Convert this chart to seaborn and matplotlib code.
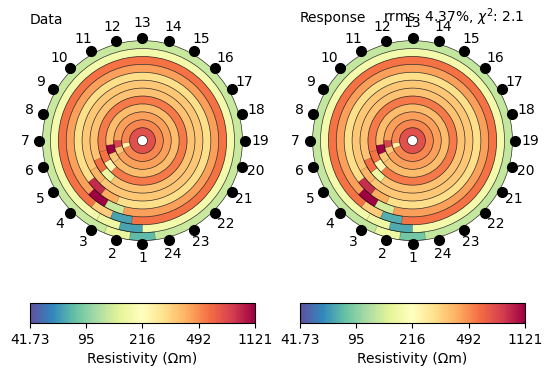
import numpy as np
import matplotlib
matplotlib.use("Agg")
import matplotlib.pyplot as plt
import seaborn as sns
from matplotlib.patches import Wedge, Circle
from matplotlib.collections import PatchCollection
from matplotlib.colors import LogNorm
from matplotlib.cm import ScalarMappable

# apparent resistivity per separation level (outer ring -> inner ring)
ring_data = [132, 184, 562, 446, 301, 354, 366, 543, 378, 446, 509, 707]
ring_resp = [128, 184, 562, 446, 301, 354, 366, 543, 378, 446, 509, 707]

# cells that differ from their ring: level, electrode position, value
odd_lvl_data = [0, 0, 1, 1, 2, 2, 3, 3, 4, 4, 5, 6, 6, 7, 7, 8, 8, 9, 9, 10]
odd_pos_data = [1.0, 2.0, 1.5, 2.5, 2.0, 3.0, 2.5, 3.5, 4.0, 3.0, 4.5,
                4.0, 5.0, 4.5, 5.5, 6.0, 5.0, 6.5, 5.5, 6.0]
odd_val_data = [78, 166, 68, 172, 68, 343, 132, 1121, 890, 418, 400,
                166, 580, 239, 560, 1121, 354, 755, 354, 255]

odd_lvl_resp = odd_lvl_data
odd_pos_resp = odd_pos_data
odd_val_resp = [86, 172, 70, 172, 72, 343, 140, 1121, 870, 418, 400,
                170, 580, 239, 560, 1100, 354, 755, 354, 255]

n_elec = 24
elec_ids = list(range(1, n_elec + 1))

vmin, vmax = 41.73, 1121
cb_ticks = [41.73, 95, 216, 492, 1121]
cb_labels = ["41.73", "95", "216", "492", "1121"]

cmap = sns.color_palette("Spectral_r", as_cmap=True)
norm = LogNorm(vmin=vmin, vmax=vmax)

r_in, r_out = 0.05, 1.0
n_lvl = len(ring_data)
w = (r_out - r_in) / n_lvl


def pos2ang(p):
    # electrode 1 at the bottom, numbering runs clockwise
    return 270 - (p - 1) * 360 / n_elec


def draw_tank(ax, rings, lvl, pos, val):
    patches, vals = [], []
    for i, v in enumerate(rings):
        ro = r_out - i * w
        patches.append(Wedge((0, 0), ro, 0, 360, width=w))
        vals.append(v)
    pc = PatchCollection(patches, cmap=cmap, norm=norm, edgecolor="none")
    pc.set_array(np.array(vals))
    ax.add_collection(pc)

    cells = []
    for l, p in zip(lvl, pos):
        a = pos2ang(p)
        cells.append(Wedge((0, 0), r_out - l * w, a - 7.5, a + 7.5, width=w))
    pc2 = PatchCollection(cells, cmap=cmap, norm=norm, edgecolor=(0, 0, 0, 0.4),
                          linewidth=0.3)
    pc2.set_array(np.array(val))
    ax.add_collection(pc2)

    for i in range(n_lvl + 1):
        ax.add_patch(Circle((0, 0), r_out - i * w, fill=False, lw=0.5,
                            ec="k", alpha=0.8))
    ang = np.deg2rad([pos2ang(e) for e in elec_ids])
    ax.plot(1.03 * np.cos(ang), 1.03 * np.sin(ang), "o", color="k", ms=7,
            clip_on=False, zorder=5)
    for e, a in zip(elec_ids, ang):
        ax.text(1.175 * np.cos(a), 1.175 * np.sin(a), str(e), ha="center",
                va="center", fontsize=10, clip_on=False)
    ax.set_xlim(-1.125, 1.125)
    ax.set_ylim(-1.125, 1.125)
    ax.set_aspect("equal")
    ax.axis("off")


fig = plt.figure(figsize=(5.53, 3.8), dpi=100)
ax1 = fig.add_axes([0.0542, 0.334, 0.4069, 0.592])
ax2 = fig.add_axes([0.5425, 0.334, 0.4069, 0.592])

draw_tank(ax1, ring_data, odd_lvl_data, odd_pos_data, odd_val_data)
draw_tank(ax2, ring_resp, odd_lvl_resp, odd_pos_resp, odd_val_resp)

ax1.set_title("Data", loc="left", fontsize=10, pad=3)
ax2.set_title("Response", loc="left", fontsize=10, pad=3)
ax2.set_title(r"rrms: 4.37%, $\chi^2$: 2.1", loc="right", fontsize=10, pad=3)

for x0 in [0.0542, 0.5425]:
    cax = fig.add_axes([x0, 0.15, 0.4069, 0.0526])
    cb = fig.colorbar(ScalarMappable(norm=norm, cmap=cmap), cax=cax,
                      orientation="horizontal")
    cb.minorticks_off()
    cb.set_ticks(cb_ticks)
    cb.set_ticklabels(cb_labels)
    cb.set_label("Resistivity (Ωm)")

fig.savefig("out.png", dpi=100)
